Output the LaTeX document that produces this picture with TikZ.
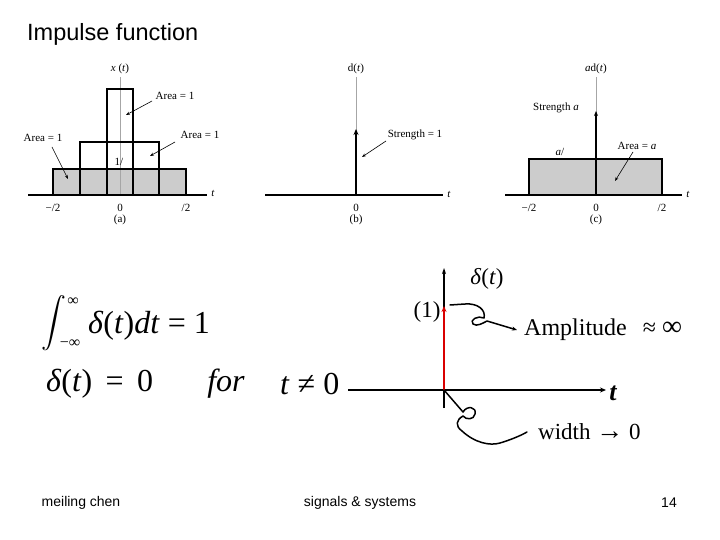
\documentclass[tikz,border=0pt]{standalone}
\usepackage{amsmath}
\usepackage{fontspec}
\setmainfont{Liberation Serif}
\newfontfamily\arial{Liberation Sans}
\usetikzlibrary{arrows.meta}
\begin{document}
\begin{tikzpicture}[x=1pt,y=-1pt,
  lbl/.style={inner sep=0pt,font=\fontsize{11}{13}\selectfont},
  bigt/.style={inner sep=0pt,font=\fontsize{32}{36}\selectfont},
  midt/.style={inner sep=0pt,font=\fontsize{23}{27}\selectfont},
  foot/.style={inner sep=0pt,font=\arial\fontsize{14}{16}\selectfont},
  pointer/.style={line width=0.6pt,-{Stealth[length=4pt,width=3pt]}},
  thickbox/.style={line width=1.6pt},
  gaxis/.style={line width=0.8pt,gray!70},
  base/.style={line width=1.2pt},
  fillg/.style={fill=gray!40},
  hand/.style={line width=1.5pt,line join=round,line cap=round}]
\useasboundingbox (0,0) rectangle (720,540);
% title
\node[inner sep=0pt,anchor=west,font=\arial\fontsize{23.5}{27}\selectfont] (title) at (27,34) {Impulse function};
% ---------- (a)
\fill[fillg] (53,169) rectangle (186,195);
\draw[gaxis] (120,77) coordinate (aTop) -- (120,195) coordinate (aO);
\draw[thickbox] (53,195) -- (53,169) -- (186,169) -- (186,195);
\draw[thickbox] (80,195) -- (80,142) -- (159,142) -- (159,195);
\draw[thickbox] (107,195) -- (107,89) -- (133,89) -- (133,195);
\draw[base] (28,195) coordinate (aL) -- (207,195) coordinate (aR);
\node[lbl] (ax) at (120,69) {\textit{x} (\textit{t})};
\node[lbl] (aArea1) at (175,96) {Area = 1};
\node[lbl] (aArea2) at (200,135) {Area = 1};
\node[lbl] (aArea3) at (43,138) {Area = 1};
\coordinate (aP1) at (126,115);
\coordinate (aP2) at (150,156);
\coordinate (aP3) at (68,179);
\draw[pointer] (152,101) -- (aP1);
\draw[pointer] (175,142) -- (aP2);
\draw[pointer] (52,147) -- (aP3);
\node[lbl] (aone) at (119,162) {1/};
\node[lbl] (at) at (213,193) {\textit{t}};
\node[lbl] (am) at (53,208) {−/2};
\node[lbl] (a0) at (120,208) {0};
\node[lbl] (ap) at (186,208) {/2};
\node[lbl] (acap) at (120,220) {(a)};
% ---------- (b)
\draw[gaxis] (356,77) -- (356,195);
\draw[base] (265,195) -- (443,195);
\draw[line width=2.2pt,-{Stealth[length=6pt,width=5pt]}] (356,195) -- (356,129);
\node[lbl] (bd) at (356,69) {d(\textit{t})};
\node[lbl] (bs) at (415,135) {Strength = 1};
\coordinate (bP) at (362,157);
\draw[pointer] (386,141) -- (bP);
\node[lbl] (bt) at (449,194) {\textit{t}};
\node[lbl] (b0) at (356,208) {0};
\node[lbl] (bcap) at (356,220) {(b)};
% ---------- (c)
\fill[fillg] (529,159) rectangle (662,195);
\draw[gaxis] (596,77) -- (596,113);
\draw[thickbox] (529,195) -- (529,159) -- (662,159) -- (662,195);
\draw[base] (505,195) -- (682,195);
\draw[line width=1.3pt,-{Stealth[length=5pt,width=4pt]}] (596,195) -- (596,111);
\node[lbl] (cd) at (596,69) {\textit{a}d(\textit{t})};
\node[lbl] (cs) at (556,108) {Strength \textit{a}};
\node[lbl] (ca) at (560,152) {\textit{a}/};
\node[lbl] (cA) at (637,146) {Area = \textit{a}};
\coordinate (cP) at (615,181);
\draw[pointer] (633,152) -- (cP);
\node[lbl] (ct) at (688,194) {\textit{t}};
\node[lbl] (cm) at (529,208) {−/2};
\node[lbl] (c0) at (596,208) {0};
\node[lbl] (cp) at (662,208) {/2};
\node[lbl] (ccap) at (596,220) {(c)};
% ---------- formulas
\node[inner sep=0pt,font=\fontsize{24}{28}\selectfont] (int) at (54,323) {$\displaystyle\int$};
\node[inner sep=0pt,font=\fontsize{16}{18}\selectfont] (intu) at (73,302) {∞};
\node[inner sep=0pt,font=\fontsize{16}{18}\selectfont] (intl) at (70,344) {−∞};
\node[bigt,anchor=west] (f1) at (88,326) {\textit{δ}(\textit{t})\textit{dt} = 1};
\node[bigt,anchor=west] (f2) at (46,384) {\textit{δ}(\textit{t})\, = \,0};
\node[bigt] (ffor) at (226,384) {\textit{for}};
\node[bigt,anchor=west] (f3) at (280,384) {\textit{t} ≠ 0};
% ---------- delta sketch
\coordinate (hL) at (348,390);
\coordinate (hR) at (606,390);
\coordinate (vB) at (444,408);
\coordinate (vT) at (444,268);
\coordinate (O) at (444,390);
\coordinate (rT) at (444,306);
\draw[line width=1.5pt,-{Stealth[length=6pt,width=5pt]}] (hL) -- (hR);
\draw[line width=1.5pt,-{Stealth[length=6pt,width=4pt]}] (vB) -- (vT);
\draw[line width=1.8pt,red!85!black,-{Stealth[length=6pt,width=5pt]}] (O) -- (rT);
\node[inner sep=0pt,font=\fontsize{26}{30}\selectfont\bfseries\itshape] (tt) at (613,393) {t};
\node[midt] (dl) at (487,279) {\textit{δ}(\textit{t})};
\node[midt] (one) at (427,312) {(1)};
\node[inner sep=0pt,anchor=west,font=\fontsize{24}{28}\selectfont] (amp) at (524,330) {Amplitude\hspace{10pt} ≈ {\fontsize{28}{30}\selectfont ∞}};
\node[midt,anchor=west] (wid) at (538,432) {width {\fontsize{27}{30}\selectfont →} 0};
\coordinate (c1s) at (450,305);
\coordinate (c1e) at (517,330);
\draw[hand,-{Stealth[length=5pt,width=4pt]}] (c1s) -- (465,304) .. controls (478,303) and (486,310) .. (484,318)
  .. controls (478,315) and (469,320) .. (473,324) .. controls (477,327) and (483,323) .. (487,321) -- (c1e);
\coordinate (c2e) at (527,432);
\draw[hand] (O) -- (463,412) .. controls (467,405) and (477,407) .. (475,414)
  .. controls (474,420) and (466,420) .. (463,416) .. controls (456,420) and (455,426) .. (462,431)
  .. controls (475,443) and (490,446) .. (500,443) .. controls (510,440) and (520,436) .. (c2e);
% ---------- footer
\node[foot] (fa) at (81,503) {meiling chen};
\node[foot] (fb) at (360,503) {signals \& systems};
\node[foot] (fc) at (669,503) {14};
\end{tikzpicture}
\end{document}
